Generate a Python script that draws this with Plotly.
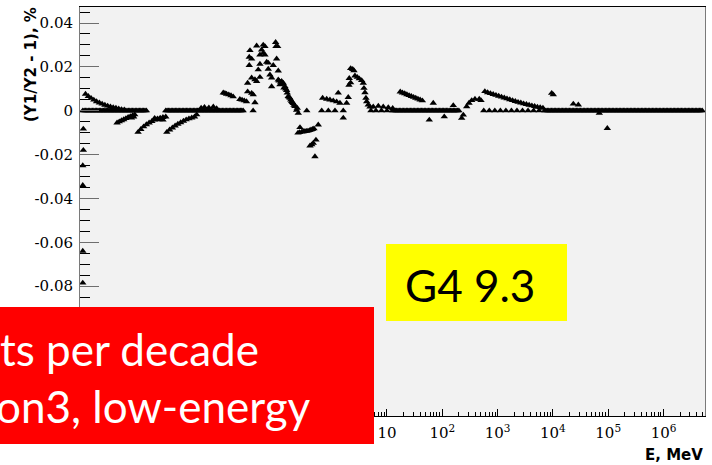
import plotly.graph_objects as go

# ---------------- data (log10 of E in MeV, ratio Y1/Y2 - 1 in %) ----------------
spike_logE = [-4.50, -4.50, -4.50, -4.50, -4.49, -4.49]
spike_ratio = [-0.0785, -0.0640, -0.0340, -0.0250, -0.0180, -0.0083]

tail_logE = [-4.45, -4.40, -4.35, -4.30, -4.25, -4.20, -4.15, -4.10, -4.05, -4.00,
             -3.95, -3.90, -3.85, -3.80, -3.75]
tail_ratio = [0.0076, 0.0066, 0.0057, 0.0049, 0.0042, 0.0036, 0.0031, 0.0026, 0.0022, 0.0018,
              0.0015, 0.0012, 0.0009, 0.0006, 0.0004]

dip_logE = [-3.88, -3.84, -3.80, -3.76, -3.72, -3.68, -3.64, -3.60, -3.56, -3.62, -3.58,
            -3.50, -3.45, -3.40, -3.35, -3.30, -3.25, -3.20, -3.15, -3.10, -3.05, -3.00,
            -3.20, -3.12, -3.05,
            -2.98, -2.93, -2.88, -2.83, -2.78, -2.73, -2.68, -2.63, -2.58, -2.53, -2.48, -2.44]
dip_ratio = [-0.0055, -0.0050, -0.0045, -0.0040, -0.0035, -0.0030, -0.0026, -0.0022, -0.0018, -0.0032, -0.0028,
             -0.0098, -0.0085, -0.0073, -0.0063, -0.0055, -0.0048, -0.0042, -0.0037, -0.0033, -0.0030, -0.0028,
             -0.0034, -0.0040, -0.0042,
             -0.0098, -0.0087, -0.0078, -0.0069, -0.0061, -0.0054, -0.0047, -0.0041, -0.0036, -0.0032, -0.0028, -0.0018]

bump_logE = [-2.36, -2.30, -2.22, -2.14, -2.08]
bump_ratio = [0.0012, 0.0016, 0.0014, 0.0018, 0.0010]

shelf_logE = [-1.96, -1.93, -1.90, -1.86, -1.82, -1.78, -1.66, -1.62, -1.58, -1.54]
shelf_ratio = [0.0082, 0.0080, 0.0076, 0.0073, 0.0069, 0.0064, 0.0052, 0.0049, 0.0046, 0.0042]

peak_logE = [-1.013, -1.007, -0.976, -1.356, -1.237, -1.206, -1.477, -1.266, -1.237, -1.297,
             -1.206, -1.490, -1.447, -0.995, -1.297, -1.175, -1.146, -1.490, -1.056, -1.327,
             -1.146, -0.966, -1.447, -1.387, -1.297, -1.116, -1.085, -1.519, -1.356, -1.085,
             -0.966, -0.904, -0.875, -0.935, -0.844, -0.863,
             -0.814, -0.803, -0.785, -0.754, -0.723, -0.694, -0.664, -0.622, -0.604, -0.633,
             -0.950, -0.920, -0.890, -0.830, -0.770, -0.740, -0.710, -0.680,
             -1.519, -1.447, -1.418, -1.387]
peak_ratio = [0.0312, 0.0293, 0.0293, 0.0296, 0.0300, 0.0293, 0.0275, 0.0278, 0.0263, 0.0255,
              0.0255, 0.0245, 0.0236, 0.0237, 0.0213, 0.0222, 0.0218, 0.0207, 0.0207, 0.0187,
              0.0190, 0.0182, 0.0150, 0.0142, 0.0153, 0.0164, 0.0150, 0.0126, 0.0134, 0.0110,
              0.0141, 0.0134, 0.0126, 0.0119, 0.0110, 0.0104,
              0.0093, 0.0081, 0.0066, 0.0058, 0.0043, 0.0033, 0.0020, 0.0012, -0.0011, 0.0003,
              0.0136, 0.0130, 0.0122, 0.0100, 0.0062, 0.0050, 0.0038, 0.0026,
              0.0087, 0.0080, 0.0073, 0.0037]

trough_logE = [-0.573, -0.609, -0.580, -0.537, -0.510, -0.483, -0.456, -0.429, -0.400, -0.374,
               -0.347, -0.320, -0.242, -0.392, -0.360, -0.333, -0.284, -0.302]
trough_ratio = [-0.0076, -0.0101, -0.0099, -0.0096, -0.0095, -0.0094, -0.0093, -0.0092, -0.0090, -0.0087,
                -0.0085, -0.0082, -0.0064, -0.0160, -0.0155, -0.0148, -0.0133, -0.0209]

second_logE = [-0.163, -0.090, -0.031, 0.029, 0.090, 0.150, 0.119, 0.300, 0.271, 0.210,
               0.318, 0.343, 0.380, 0.403, 0.421, 0.463, 0.499, 0.542, 0.571, 0.584,
               0.602, 0.620, 0.633, 0.662, 0.313, 0.343,
               0.693, 0.752, 0.843, 0.933, 1.024, 1.103]
second_ratio = [0.0058, 0.0053, 0.0050, 0.0046, 0.0041, 0.0035, 0.0081, 0.0061, 0.0035, -0.0033,
                0.0148, 0.0193, 0.0189, 0.0183, 0.0159, 0.0153, 0.0146, 0.0138, 0.0126, 0.0103,
                0.0083, 0.0058, 0.0042, 0.0027, 0.0117, 0.0128,
                0.0018, 0.0018, 0.0021, 0.0018, 0.0015, 0.0011]

third_logE = [1.24, 1.28, 1.32, 1.36, 1.40, 1.44, 1.48, 1.52, 1.56, 1.60, 1.64,
              1.837, 1.765, 2.036, 2.199,
              2.351, 2.380, 2.441, 2.483, 2.532, 2.591, 2.669, 2.700]
third_ratio = [0.0086, 0.0082, 0.0078, 0.0074, 0.0070, 0.0066, 0.0062, 0.0058, 0.0054, 0.0050, 0.0046,
               0.0035, -0.0042, -0.0027, 0.0024,
               -0.0034, -0.0019, 0.0019, 0.0035, 0.0047, 0.0053, 0.0053, 0.0047]

fourth_logE = [2.77, 2.82, 2.87, 2.92, 2.97, 3.02, 3.07, 3.12, 3.17, 3.22, 3.27,
               3.32, 3.37, 3.42, 3.47, 3.52, 3.57, 3.62, 3.67, 3.72, 3.77, 3.82,
               3.978, 4.007, 4.369, 4.459, 4.839, 4.984]
fourth_ratio = [0.0088, 0.0083, 0.0079, 0.0075, 0.0071, 0.0067, 0.0063, 0.0059, 0.0055, 0.0051, 0.0047,
                0.0043, 0.0039, 0.0036, 0.0032, 0.0029, 0.0026, 0.0023, 0.0020, 0.0017, 0.0015, 0.0012,
                0.0080, 0.0073, 0.0031, 0.0027, -0.0011, -0.0080]

# energies where the ratio is exactly zero (dense band along y = 0)
zero_logE = [-4.50, -4.475, -4.45, -4.425, -4.40, -4.375, -4.35, -4.325, -4.30, -4.275, -4.25, -4.225,
             -4.20, -4.175, -4.15, -4.125, -4.10, -4.075, -4.05, -4.025, -4.00, -3.975, -3.95, -3.925,
             -3.90, -3.875, -3.85, -3.825, -3.80, -3.775, -3.75, -3.725, -3.70, -3.675, -3.65, -3.625,
             -3.60, -3.575, -3.55, -3.525, -3.50, -3.475, -3.45, -3.425, -3.40, -3.375, -3.35,
             -3.00, -2.975, -2.95, -2.925, -2.90, -2.875, -2.85, -2.825, -2.80, -2.775, -2.75, -2.725,
             -2.70, -2.675, -2.65, -2.625, -2.60, -2.575, -2.55, -2.525, -2.50, -2.475, -2.45, -2.425,
             -2.40, -2.375, -2.35, -2.325, -2.30, -2.275, -2.25, -2.225, -2.20, -2.175, -2.15, -2.125,
             -2.10, -2.075, -2.05, -2.025, -2.00, -1.975, -1.95, -1.925, -1.90, -1.875, -1.85, -1.825,
             -1.80, -1.775, -1.75, -1.725, -1.70, -1.675, -1.65, -1.625, -1.60,
             -1.42, -0.45, -0.18, -0.06, 0.06, 0.21, 0.71, 0.80, 0.90, 1.00,
             1.10, 1.125, 1.15, 1.175, 1.20, 1.225, 1.25, 1.275, 1.30, 1.325, 1.35, 1.375, 1.40,
             1.425, 1.45, 1.475, 1.50, 1.525, 1.55, 1.575, 1.60, 1.625, 1.65, 1.675, 1.70, 1.725,
             1.75, 1.775, 1.80, 1.825, 1.85, 1.875, 1.90, 1.925, 1.95, 1.975, 2.00, 2.025, 2.05,
             2.075, 2.10, 2.125, 2.15, 2.175, 2.20, 2.225, 2.25, 2.275, 2.30,
             2.75, 2.85, 2.95, 3.05, 3.15, 3.25, 3.35, 3.45, 3.55, 3.65, 3.75,
             3.85, 3.875, 3.90, 3.925, 3.95, 3.975, 4.00, 4.025, 4.05, 4.075, 4.10, 4.125, 4.15,
             4.175, 4.20, 4.225, 4.25, 4.275, 4.30, 4.325, 4.35, 4.375, 4.40, 4.425, 4.45, 4.475,
             4.50, 4.525, 4.55, 4.575, 4.60, 4.625, 4.65, 4.675, 4.70, 4.725, 4.75, 4.775, 4.80,
             4.825, 4.85, 4.875, 4.90, 4.925, 4.95, 4.975, 5.00, 5.025, 5.05, 5.075, 5.10, 5.125,
             5.15, 5.175, 5.20, 5.225, 5.25, 5.275, 5.30, 5.325, 5.35, 5.375, 5.40, 5.425, 5.45,
             5.475, 5.50, 5.525, 5.55, 5.575, 5.60, 5.625, 5.65, 5.675, 5.70, 5.725, 5.75, 5.775,
             5.80, 5.825, 5.85, 5.875, 5.90, 5.925, 5.95, 5.975, 6.00, 6.025, 6.05, 6.075, 6.10,
             6.125, 6.15, 6.175, 6.20, 6.225, 6.25, 6.275, 6.30, 6.325, 6.35, 6.375, 6.40, 6.425,
             6.45, 6.475, 6.50, 6.525, 6.55, 6.575, 6.60, 6.625, 6.65, 6.675, 6.70]
zero_ratio = [0.0] * len(zero_logE)

x_tickvals = [1e-4, 1e-3, 1e-2, 1e-1, 1, 10, 1e2, 1e3, 1e4, 1e5, 1e6]
x_ticktext = ["", "", "", "", "", "10", "10<sup>2</sup>", "10<sup>3</sup>", "10<sup>4</sup>",
              "10<sup>5</sup>", "10<sup>6</sup>"]
y_tickvals = [-0.14, -0.12, -0.10, -0.08, -0.06, -0.04, -0.02, 0.0, 0.02, 0.04]
y_ticktext = ["", "", "", "-0.08", "-0.06", "-0.04", "-0.02", "0", "0.02", "0.04"]

y_title = "(Y1/Y2 - 1), %"
x_title = "E, MeV"
red_lines = ["ts per decade", "on3, low-energy"]
yellow_label = "G4 9.3"

# ---------------- figure ----------------
W, H = 712, 465
L, R, T, B = 80, 7, 7, 49
PW, PH = W - L - R, H - T - B


def px_x(px):
    return (px - L) / PW


def px_y(py):
    return (H - B - py) / PH


all_logE = (spike_logE + tail_logE + dip_logE + bump_logE + shelf_logE + peak_logE +
            trough_logE + second_logE + third_logE + fourth_logE + zero_logE)
all_ratio = (spike_ratio + tail_ratio + dip_ratio + bump_ratio + shelf_ratio + peak_ratio +
             trough_ratio + second_ratio + third_ratio + fourth_ratio + zero_ratio)
energies = [10 ** v for v in all_logE]

fig = go.Figure()
fig.add_trace(go.Scatter(
    x=energies, y=all_ratio, mode="markers",
    marker=dict(symbol="triangle-up", size=6.5, color="black", line=dict(width=0)),
    showlegend=False, hoverinfo="skip"))

serif = dict(family="DejaVu Serif", size=15, color="black")

fig.update_layout(
    width=W, height=H,
    margin=dict(l=L, r=R, t=T, b=B, pad=0),
    paper_bgcolor="white", plot_bgcolor="#f2f2f2",
    xaxis=dict(
        type="log", range=[-4.55, 6.75],
        showgrid=False, zeroline=False,
        showline=True, linecolor="black", linewidth=1, mirror=True,
        ticks="inside", ticklen=7, tickwidth=1, tickcolor="black",
        tickmode="array", tickvals=x_tickvals, ticktext=x_ticktext,
        tickfont=serif, ticklabelstandoff=3,
        minor=dict(ticks="inside", ticklen=4, tickwidth=1, tickcolor="black",
                   tickmode="linear", dtick="D1", showgrid=False),
    ),
    yaxis=dict(
        range=[-0.1392, 0.0473],
        showgrid=False, zeroline=False,
        showline=True, linecolor="#7a7a7a", linewidth=1, mirror=True,
        ticks="inside", ticklen=19, tickwidth=1, tickcolor="#6e6e6e",
        tickmode="array", tickvals=y_tickvals, ticktext=y_ticktext,
        tickfont=serif, ticklabelstandoff=3,
        minor=dict(ticks="inside", ticklen=10, tickwidth=1, tickcolor="black",
                   tickmode="linear", tick0=0, dtick=0.005, showgrid=False),
    ),
    shapes=[
        dict(type="rect", xref="paper", yref="paper", layer="above",
             x0=px_x(0), x1=px_x(374), y0=px_y(444), y1=px_y(307),
             fillcolor="#ff0000", line=dict(width=0)),
        dict(type="rect", xref="paper", yref="paper", layer="above",
             x0=px_x(386), x1=px_x(567), y0=px_y(321), y1=px_y(244),
             fillcolor="#ffff00", line=dict(width=0)),
    ],
    annotations=[
        dict(text="<b>" + y_title + "</b>", xref="paper", yref="paper", textangle=-90,
             x=px_x(31), y=px_y(65), xanchor="center", yanchor="middle", showarrow=False,
             font=dict(family="DejaVu Sans", size=15, color="black")),
        dict(text="<b>" + x_title + "</b>", xref="paper", yref="paper",
             x=px_x(705), y=px_y(455), xanchor="right", yanchor="middle", showarrow=False,
             font=dict(family="DejaVu Sans", size=15, color="black")),
        dict(text=red_lines[0], xref="paper", yref="paper",
             x=px_x(-2), y=px_y(349), xanchor="left", yanchor="middle", showarrow=False,
             font=dict(family="Lato", size=44, color="white")),
        dict(text=red_lines[1], xref="paper", yref="paper",
             x=px_x(-6), y=px_y(406), xanchor="left", yanchor="middle", showarrow=False,
             font=dict(family="Lato", size=44, color="white")),
        dict(text=yellow_label, xref="paper", yref="paper",
             x=px_x(470), y=px_y(285), xanchor="center", yanchor="middle", showarrow=False,
             font=dict(family="Lato", size=44, color="black")),
    ],
)

fig.write_html("out.html")
